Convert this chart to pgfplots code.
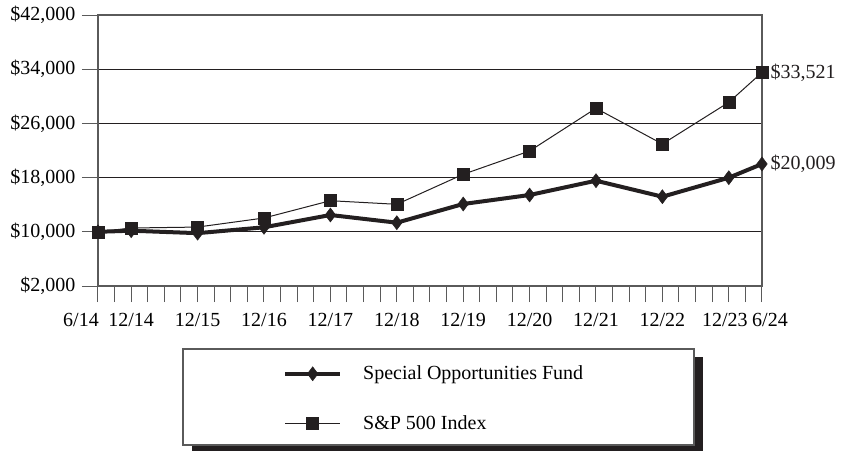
\documentclass[border=0pt]{standalone}
\usepackage{fontspec}
\setmainfont{Liberation Serif}
\usepackage{pgfplots}
\pgfplotsset{compat=1.18}
\definecolor{ink}{HTML}{231F20}
\definecolor{axisgray}{HTML}{5A5A5A}
\begin{document}
\begin{tikzpicture}[font=\fontsize{20}{24}\selectfont]
\useasboundingbox (-98pt,-165pt) rectangle (749pt,286pt);
% legend frame and its shadow
\fill[ink] (94pt,-71pt) rectangle (605pt,-165pt);
\draw[axisgray, line width=1.5pt, fill=white] (85pt,-63pt) rectangle (596pt,-159pt);
\begin{axis}[
  at={(0,0)}, anchor=south west,
  scale only axis,
  width=664pt, height=271pt,
  xmin=0, xmax=40, ymin=2000, ymax=42000,
  clip=false,
  scaled y ticks=false,
  axis line style={line width=2pt, color=axisgray},
  xtick={0,1,...,40},
  xticklabels={{6/14\rule{34pt}{0pt}},,12/14,,,,12/15,,,,12/16,,,,12/17,,,,12/18,,,,12/19,,,,12/20,,,,12/21,,,,12/22,,,,{12/23\rule{8pt}{0pt}},,{\rule{16pt}{0pt}6/24}},
  ytick={2000,10000,18000,26000,34000,42000},
  yticklabels={{\$2,000},{\$10,000},{\$18,000},{\$26,000},{\$34,000},{\$42,000}},
  xtick pos=bottom, ytick pos=left,
  tick align=outside,
  major tick length=16pt,
  tick style={line width=1pt, color=axisgray},
  ymajorgrids,
  grid style={line width=1pt, color=ink},
  xticklabel style={yshift=-8pt},
  yticklabel style={xshift=-3pt},
  /pgf/number format/assume math mode=true,
  legend style={
    at={(0.2786,-0.415)}, anchor=west,
    draw=none, fill=none, inner sep=0pt,
    row sep=30pt, column sep=19pt,
    cells={anchor=west},
  },
  legend image code/.code={%
    \draw[mark repeat=2,mark phase=2,#1] plot coordinates {(0pt,0pt) (27.5pt,0pt) (55pt,0pt)};},
]
\addplot[color=ink, line width=4pt, mark=diamond*, mark size=7pt, mark options={solid, line width=0.5pt}]
  coordinates {(0,10000) (2,10163) (6,9800) (10,10664) (14,12480) (18,11345) (22,14104) (26,15432) (30,17543) (34,15181) (38,17986) (40,20009)};
\addlegendentry{Special Opportunities Fund}
\addplot[color=ink, line width=1pt, mark=square*, mark size=6pt, mark options={solid, line width=0.5pt}]
  coordinates {(0,10000) (2,10560) (6,10700) (10,12037) (14,14590) (18,14060) (22,18487) (26,21926) (30,28229) (34,22960) (38,29114) (40,33521)};
\addlegendentry{S\&P 500 Index}
\node[anchor=west, xshift=5pt, text=ink] at (axis cs:40,33521) {\$33,521};
\node[anchor=west, xshift=5pt, text=ink] at (axis cs:40,20009) {\$20,009};
\end{axis}
\end{tikzpicture}
\end{document}
